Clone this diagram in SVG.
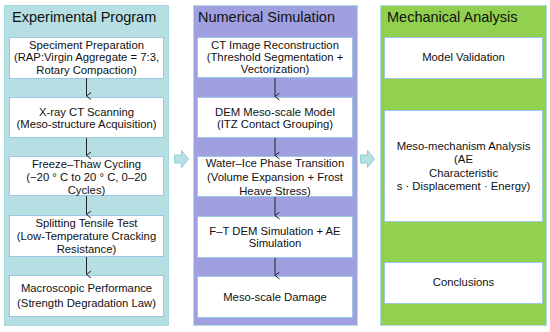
<svg xmlns="http://www.w3.org/2000/svg" width="550" height="332" viewBox="0 0 550 332">
<defs>
<style>
.t{font-family:"Liberation Sans",Arial,sans-serif;font-size:11.3px;fill:#111;text-anchor:middle}
.h{font-family:"Liberation Sans",Arial,sans-serif;font-size:14.5px;fill:#111}
.box{fill:#fff;stroke:#9cc8e4;stroke-width:1}
.conn{stroke:#222;stroke-width:1;fill:none}
.big{fill:#b6e0e4;stroke:#8fcfd6;stroke-width:1}
</style>
<marker id="ah" markerWidth="10" markerHeight="10" refX="4" refY="7" orient="auto" markerUnits="userSpaceOnUse" viewBox="0 0 10 10">
<path d="M0.5,2.5 L4,7 L7.5,2.5" fill="none" stroke="#222" stroke-width="1"/>
</marker>
</defs>
<rect width="550" height="332" fill="#fff"/>
<g id="panel-experimental">
<rect x="4.5" y="5.5" width="164" height="320" fill="#b6dfe4" stroke="#a5d9de"/>
<text class="h" x="12" y="22">Experimental Program</text>
</g>
<g id="panel-numerical">
<rect x="193.5" y="5.5" width="164" height="320" fill="#a09fdf" stroke="#b0dde3"/>
<text class="h" x="198" y="22">Numerical Simulation</text>
</g>
<g id="panel-mechanical">
<rect x="380.5" y="5.5" width="166" height="320" fill="#92d050" stroke="#b0dde3"/>
<text class="h" x="387" y="22">Mechanical Analysis</text>
</g>
<g id="e1"><rect class="box" x="9.5" y="37.5" width="154" height="41"/>
<text class="t" x="86.5" y="49">Speciment Preparation</text>
<text class="t" x="86.5" y="61">(RAP:Virgin Aggregate = 7:3,</text>
<text class="t" x="86.5" y="74">Rotary Compaction)</text></g>
<g id="e2"><rect class="box" x="9.5" y="97.5" width="154" height="40"/>
<text class="t" x="86.5" y="116">X-ray CT Scanning</text>
<text class="t" x="86.5" y="128">(Meso-structure Acquisition)</text></g>
<g id="e3"><rect class="box" x="9.5" y="156.5" width="154" height="39"/>
<text class="t" x="86.5" y="168">Freeze–Thaw Cycling</text>
<text class="t" x="86.5" y="181">(−20 ° C to 20 ° C, 0–20</text>
<text class="t" x="86.5" y="194">Cycles)</text></g>
<g id="e4"><rect class="box" x="9.5" y="215.5" width="154" height="41"/>
<text class="t" x="86.5" y="227">Splitting Tensile Test</text>
<text class="t" x="86.5" y="240">(Low-Temperature Cracking</text>
<text class="t" x="86.5" y="253">Resistance)</text></g>
<g id="e5"><rect class="box" x="9.5" y="275.5" width="154" height="41"/>
<text class="t" x="86.5" y="292">Macroscopic Performance</text>
<text class="t" x="86.5" y="307">(Strength Degradation Law)</text></g>
<g id="n1"><rect class="box" x="197.5" y="37.5" width="155" height="40"/>
<text class="t" x="275" y="49">CT Image Reconstruction</text>
<text class="t" x="275" y="61">(Threshold Segmentation +</text>
<text class="t" x="275" y="73">Vectorization)</text></g>
<g id="n2"><rect class="box" x="197.5" y="97.5" width="155" height="40"/>
<text class="t" x="275" y="116">DEM Meso-scale Model</text>
<text class="t" x="275" y="128">(ITZ Contact Grouping)</text></g>
<g id="n3"><rect class="box" x="197.5" y="156.5" width="155" height="40"/>
<text class="t" x="275" y="167">Water–Ice Phase Transition</text>
<text class="t" x="275" y="181">(Volume Expansion + Frost</text>
<text class="t" x="275" y="195">Heave Stress)</text></g>
<g id="n4"><rect class="box" x="197.5" y="216.5" width="155" height="41"/>
<text class="t" x="275" y="235">F–T DEM Simulation + AE</text>
<text class="t" x="275" y="247">Simulation</text></g>
<g id="n5"><rect class="box" x="197.5" y="276.5" width="155" height="41"/>
<text class="t" x="275" y="301">Meso-scale Damage</text></g>
<g id="m1"><rect class="box" x="384.5" y="37.5" width="158" height="41"/>
<text class="t" x="463.5" y="61">Model Validation</text></g>
<g id="m2"><rect class="box" x="384.5" y="110.5" width="158" height="111"/>
<text class="t" x="463.5" y="150">Meso-mechanism Analysis</text>
<text class="t" x="463.5" y="163">(AE</text>
<text class="t" x="463.5" y="177">Characteristic</text>
<text class="t" x="463.5" y="190">s · Displacement · Energy)</text></g>
<g id="m3"><rect class="box" x="384.5" y="262.5" width="158" height="41"/>
<text class="t" x="463.5" y="286">Conclusions</text></g>
<g id="connectors">
<line class="conn" x1="86.5" y1="78" x2="86.5" y2="96" marker-end="url(#ah)"/>
<line class="conn" x1="86.5" y1="138" x2="86.5" y2="155.5" marker-end="url(#ah)"/>
<line class="conn" x1="86.5" y1="196" x2="86.5" y2="214.5" marker-end="url(#ah)"/>
<line class="conn" x1="86.5" y1="257" x2="86.5" y2="274.5" marker-end="url(#ah)"/>
<line class="conn" x1="275" y1="78" x2="275" y2="96.5" marker-end="url(#ah)"/>
<line class="conn" x1="275" y1="138" x2="275" y2="155.5" marker-end="url(#ah)"/>
<line class="conn" x1="275" y1="197" x2="275" y2="215.5" marker-end="url(#ah)"/>
<line class="conn" x1="275" y1="258" x2="275" y2="275.5" marker-end="url(#ah)"/>
<path class="big" d="M174.5,155 L181.5,155 L181.5,150.5 L188.5,159 L181.5,167.5 L181.5,163 L174.5,163 Z"/>
<path class="big" d="M360.5,155 L367.5,155 L367.5,150.5 L374.5,159 L367.5,167.5 L367.5,163 L360.5,163 Z"/>
</g>
</svg>
